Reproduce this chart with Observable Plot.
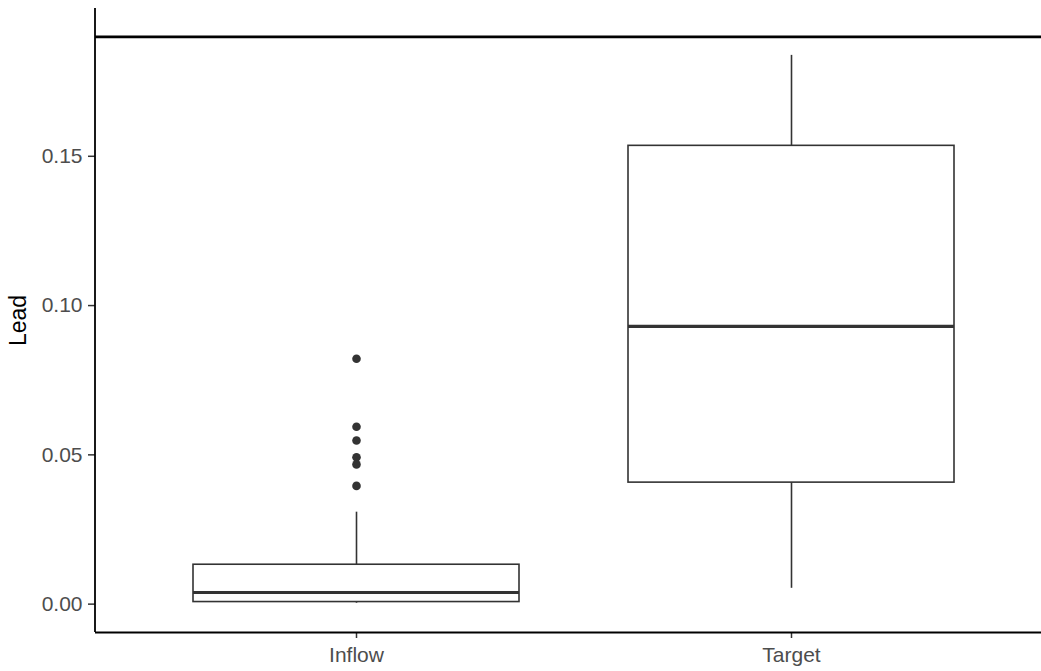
<!DOCTYPE html>
<html>
<head>
<meta charset="utf-8">
<script src="https://cdn.jsdelivr.net/npm/d3@7"></script>
<script src="https://cdn.jsdelivr.net/npm/@observablehq/plot@0.6"></script>
<style>
  html, body { margin: 0; padding: 0; background: #ffffff; overflow: hidden; }
  #chart svg { display: block; }
</style>
</head>
<body>
<div id="chart"></div>
<script>
// ---- data ----
const categories = ["Inflow", "Target"];
const whiskerLow  = [0.0003, 0.0053];
const quartile1   = [0.0007, 0.0407];
const medians     = [0.0039, 0.0930];
const quartile3   = [0.0132, 0.1535];
const whiskerHigh = [0.0308, 0.1838];
const outlierGroup  = ["Inflow", "Inflow", "Inflow", "Inflow", "Inflow", "Inflow"];
const outlierValues = [0.0822, 0.0594, 0.0548, 0.0492, 0.0468, 0.0396];
const referenceLine = [0.19];
const yTicks = [0.00, 0.05, 0.10, 0.15];
const yLabel = "Lead";

const boxes = categories.map((c, i) => ({
  cat: c, lo: whiskerLow[i], q1: quartile1[i], med: medians[i], q3: quartile3[i], hi: whiskerHigh[i]
}));
const outliers = outlierValues.map((v, i) => ({cat: outlierGroup[i], v}));

// ggplot-like expansion of the y range by 5%
const yMin = 0, yMax = 0.19, pad = (yMax - yMin) * 0.05;

const W = 1041, H = 671, mL = 95, mT = 8, mB = 39;
const boxStroke = "#333333";
const font = "'Liberation Sans', Arial, sans-serif";

const chart = Plot.plot({
  width: W,
  height: H,
  marginLeft: mL,
  marginRight: 0,
  marginTop: mT,
  marginBottom: mB,
  style: {fontFamily: font, fontSize: "21px", background: "#ffffff", overflow: "hidden"},
  x: {
    type: "band",
    domain: categories,
    range: [mL, 1053],
    paddingInner: 0.25,
    paddingOuter: 0.225,
    label: null
  },
  y: {
    domain: [yMin - pad, yMax + pad],
    label: null
  },
  marks: [
    Plot.axisY({
      ticks: yTicks, tickFormat: d3.format(".2f"), tickSize: 7, tickPadding: 6,
      fontSize: 21, fill: "#4d4d4d", stroke: boxStroke, strokeWidth: 1.5, label: null
    }),
    Plot.axisX({
      tickSize: 6, tickPadding: 9, fontSize: 21, fill: "#4d4d4d", stroke: boxStroke, strokeWidth: 1.5, label: null
    }),
    // whiskers
    Plot.ruleX(boxes, {x: "cat", y1: "lo", y2: "q1", stroke: boxStroke, strokeWidth: 1.6}),
    Plot.ruleX(boxes, {x: "cat", y1: "q3", y2: "hi", stroke: boxStroke, strokeWidth: 1.6}),
    // boxes
    Plot.barY(boxes, {x: "cat", y1: "q1", y2: "q3", fill: "#ffffff", stroke: boxStroke, strokeWidth: 1.6}),
    // medians
    Plot.tickY(boxes, {x: "cat", y: "med", stroke: boxStroke, strokeWidth: 3.2}),
    // outliers
    Plot.dot(outliers, {x: "cat", y: "v", r: 4.3, fill: boxStroke, stroke: "none"}),
    // reference line
    Plot.ruleY(referenceLine, {stroke: "#000000", strokeWidth: 2.8}),
    // bottom axis line
    Plot.ruleY([yMin - pad], {stroke: "#000000", strokeWidth: 1.8}),
    // y-axis title
    Plot.text([yLabel], {
      frameAnchor: "left", dx: -77, rotate: -90, text: d => d,
      fontSize: 23, fill: "#000000", textAnchor: "middle", lineAnchor: "middle"
    })
  ]
});

// left axis line along the panel's left edge
d3.select(chart).append("line")
  .attr("x1", mL).attr("x2", mL)
  .attr("y1", mT).attr("y2", H - mB)
  .attr("stroke", "#000000").attr("stroke-width", 1.8);

document.getElementById("chart").appendChild(chart);
</script>
</body>
</html>
